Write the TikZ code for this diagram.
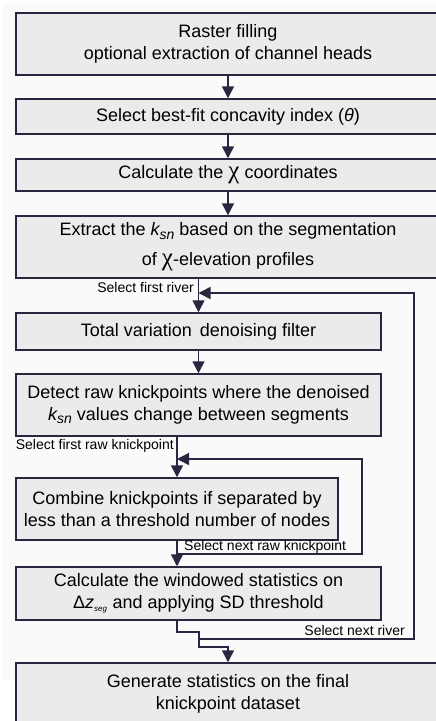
\documentclass[tikz,border=0pt]{standalone}
\usepackage{fontspec}
\setmainfont{Liberation Sans}
\newfontfamily\chifont{Liberation Serif}
\usetikzlibrary{arrows.meta, positioning}

\definecolor{boxline}{HTML}{2B2540}
\definecolor{boxfill}{HTML}{EBEBEB}
\definecolor{panel}{HTML}{FAFAFA}

\newcommand{\chisym}{{\chifont\fontsize{25}{20}\selectfont χ}}
\newcommand{\ksn}{{\itshape k\raisebox{-0.35ex}{\fontsize{14}{14}\selectfont sn}}}
\newcommand{\dzseg}{Δ{\itshape z}\textsubscript{\fontsize{8}{8}\selectfont\itshape seg}}

\tikzset{
  box/.style={draw=boxline, fill=boxfill, line width=1.5pt, align=center, inner sep=0pt, font=\fontsize{18}{22}\selectfont},
  arr/.style={draw=boxline, line width=1.5pt, -{Triangle[width=12pt,length=12pt]}},
  lbl/.style={font=\fontsize{14}{16}\selectfont, inner sep=0pt},
}

\begin{document}
\begin{tikzpicture}[x=1pt, y=-1pt]
            \useasboundingbox (0,0) rectangle (436,721);
            \clip (0,0) rectangle (436,721);
            \fill[panel] (3,3) rectangle (436,679);
            \node[box, minimum width=424, minimum height=62] (b1) at (228,44) {Raster filling\\optional extraction of channel heads};
            \node[box, minimum width=424, minimum height=35] (b2) at (228,116.5) {Select best-fit concavity index ({\itshape θ})};
            \node[box, minimum width=424, minimum height=32] (b3) at (228,175) {Calculate the \chisym\ coordinates};
            \node[box, minimum width=424, minimum height=62] (b4) at (228,247) {Extract the \ksn\ based on the segmentation\\[8pt]of \chisym-elevation profiles};
            \node[box, minimum width=365, minimum height=37] (b5) at (198.5,331.5) {Total variation\, denoising filter};
            \node[box, minimum width=365, minimum height=62] (b6) at (198.5,405) {Detect raw knickpoints where the denoised\\\ksn\ values change between segments};
            \node[box, minimum width=322, minimum height=62] (b7) at (177,509) {Combine knickpoints if separated by\\less than a threshold number of nodes};
            \node[box, minimum width=365, minimum height=53] (b8) at (198.5,593.5) {Calculate the windowed statistics on\\\dzseg\ and applying SD threshold};
            \node[box, minimum width=424, minimum height=61] (b9) at (228,693.5) {Generate statistics on the final\\knickpoint dataset};
            \node[lbl, anchor=east] (l1) at (194,287) {Select first river};
            \node[lbl, anchor=east] (l2) at (174,446) {Select first raw knickpoint};
            \node[lbl, anchor=west] (l3) at (184,547) {Select next raw knickpoint};
            \node[lbl, anchor=east] (l4) at (405,630) {Select next river};
            \coordinate (k0) at (177,554);
            \coordinate (k1) at (362,554);
            \coordinate (k2) at (362,459);
            \coordinate (r0) at (199,639);
            \coordinate (r1) at (414,639);
            \coordinate (r2) at (414,293);
            \coordinate (m1) at (199,632);
            \coordinate (m2) at (199,647);
            \draw[arr] (b1) -- (b2);
            \draw[arr] (b2) -- (b3);
            \draw[arr] (b3) -- (b4);
            \draw[arr] (b4.south -| b5) -- (b5);
            \draw[arr] (b5) -- (b6);
            \draw[arr] (b6.south -| b7) -- (b7);
            \draw[arr] (b7) -- (b8.north -| b7);
            \draw[arr] (k0) -- (k1) -- (k2) -- (k2 -| b7);
            \draw[arr] (r0) -- (r1) -- (r2) -- (r2 -| b5);
            \draw[arr] (b8.south -| b7) |- (m1) -- (m2) -| (b9.north);
        \end{tikzpicture}
\end{document}
